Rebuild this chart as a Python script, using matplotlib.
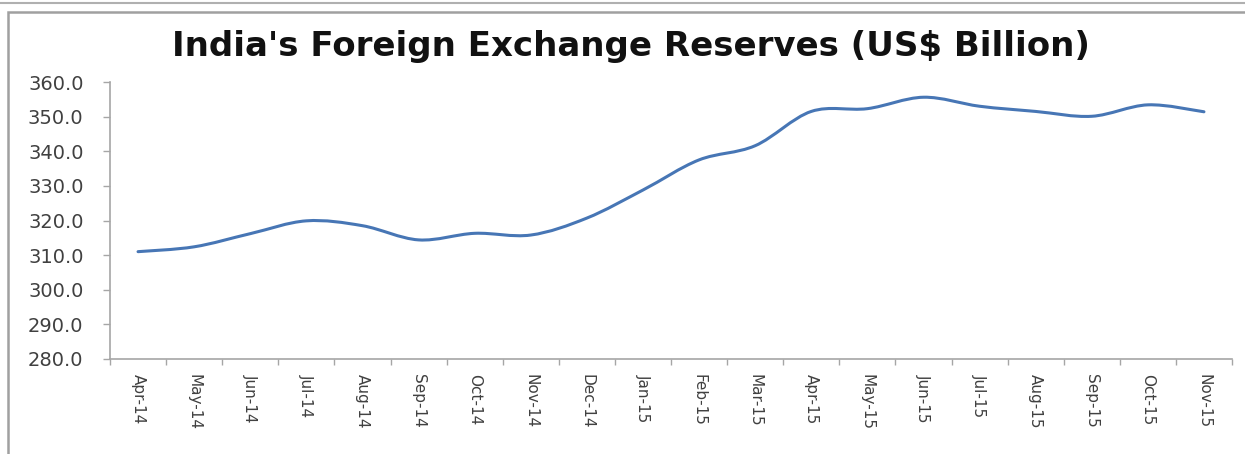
import matplotlib
matplotlib.use("Agg")
import matplotlib.pyplot as plt
from matplotlib.path import Path
from matplotlib.patches import PathPatch, Rectangle
from matplotlib.lines import Line2D
import numpy as np

# Monthly reserves
months = ['Apr-14', 'May-14', 'Jun-14', 'Jul-14', 'Aug-14', 'Sep-14', 'Oct-14',
          'Nov-14', 'Dec-14', 'Jan-15', 'Feb-15', 'Mar-15', 'Apr-15', 'May-15',
          'Jun-15', 'Jul-15', 'Aug-15', 'Sep-15', 'Oct-15', 'Nov-15']
reserves = [311.0, 312.4, 316.2, 319.9, 318.5, 314.4, 316.3, 315.8, 320.7, 328.8,
            337.5, 341.6, 351.5, 352.3, 355.6, 353.0, 351.5, 350.1, 353.4, 351.4]
y_ticks = [280, 290, 300, 310, 320, 330, 340, 350, 360]

title = "India's Foreign Exchange Reserves (US$ Billion)"
line_color = '#4776b5'
axis_color = '#a6a6a6'
text_color = '#404040'


def smooth_path(xs, ys):
    # Excel style smoothed line: cubic Bezier segments through every point
    pts = np.column_stack([xs, ys]).astype(float)
    n = len(pts)
    verts = [pts[0]]
    codes = [Path.MOVETO]
    for i in range(n - 1):
        p0 = pts[i - 1] if i > 0 else pts[i]
        p1 = pts[i]
        p2 = pts[i + 1]
        p3 = pts[i + 2] if i + 2 < n else pts[i + 1]
        c1 = p1 + (p2 - p0) / 6.0
        c2 = p2 - (p3 - p1) / 6.0
        verts += [c1, c2, p2]
        codes += [Path.CURVE4] * 3
    return Path(verts, codes)


fig = plt.figure(figsize=(12.45, 4.54), dpi=100)
ax = fig.add_axes([110 / 1245, 1 - 359 / 454, (1232 - 110) / 1245, (359 - 82) / 454])

x = np.arange(len(months))
patch = PathPatch(smooth_path(x, reserves), facecolor='none', edgecolor=line_color,
                  linewidth=2.2, capstyle='round', joinstyle='round')
ax.add_patch(patch)

ax.set_xlim(-0.5, len(months) - 0.5)
ax.set_ylim(280, 360)
ax.set_yticks(y_ticks)
ax.set_yticklabels([f'{v:.1f}' for v in y_ticks], fontsize=14, color=text_color,
                   family='DejaVu Sans')
ax.set_xticks(x)
ax.set_xticklabels(months, rotation=270, fontsize=11, color=text_color,
                   family=['Liberation Sans Narrow', 'DejaVu Sans'])
ax.set_xticks(np.arange(len(months) + 1) - 0.5, minor=True)
ax.tick_params(axis='x', which='major', length=0, pad=11)
ax.tick_params(axis='x', which='minor', length=4, color=axis_color, width=1)
ax.tick_params(axis='y', length=5, color=axis_color, width=1, pad=14)

for side in ['top', 'right']:
    ax.spines[side].set_visible(False)
for side in ['left', 'bottom']:
    ax.spines[side].set_color(axis_color)
    ax.spines[side].set_linewidth(1.2)

fig.text(0.507, 0.898, title, ha='center', va='center', fontsize=24.5,
         fontweight='bold', family='DejaVu Sans', color='#111111')

# surrounding frame of the screenshot
fig.add_artist(Line2D([0, 1], [1 - 3 / 454, 1 - 3 / 454], transform=fig.transFigure,
                      color='#b0b0b0', linewidth=1.5))
fig.add_artist(Rectangle((8 / 1245, -0.1), 1.2, 1 - 12 / 454 + 0.1, transform=fig.transFigure,
                         facecolor='none', edgecolor='#a0a0a0', linewidth=1.8, clip_on=False))

fig.savefig('out.png', dpi=100)
